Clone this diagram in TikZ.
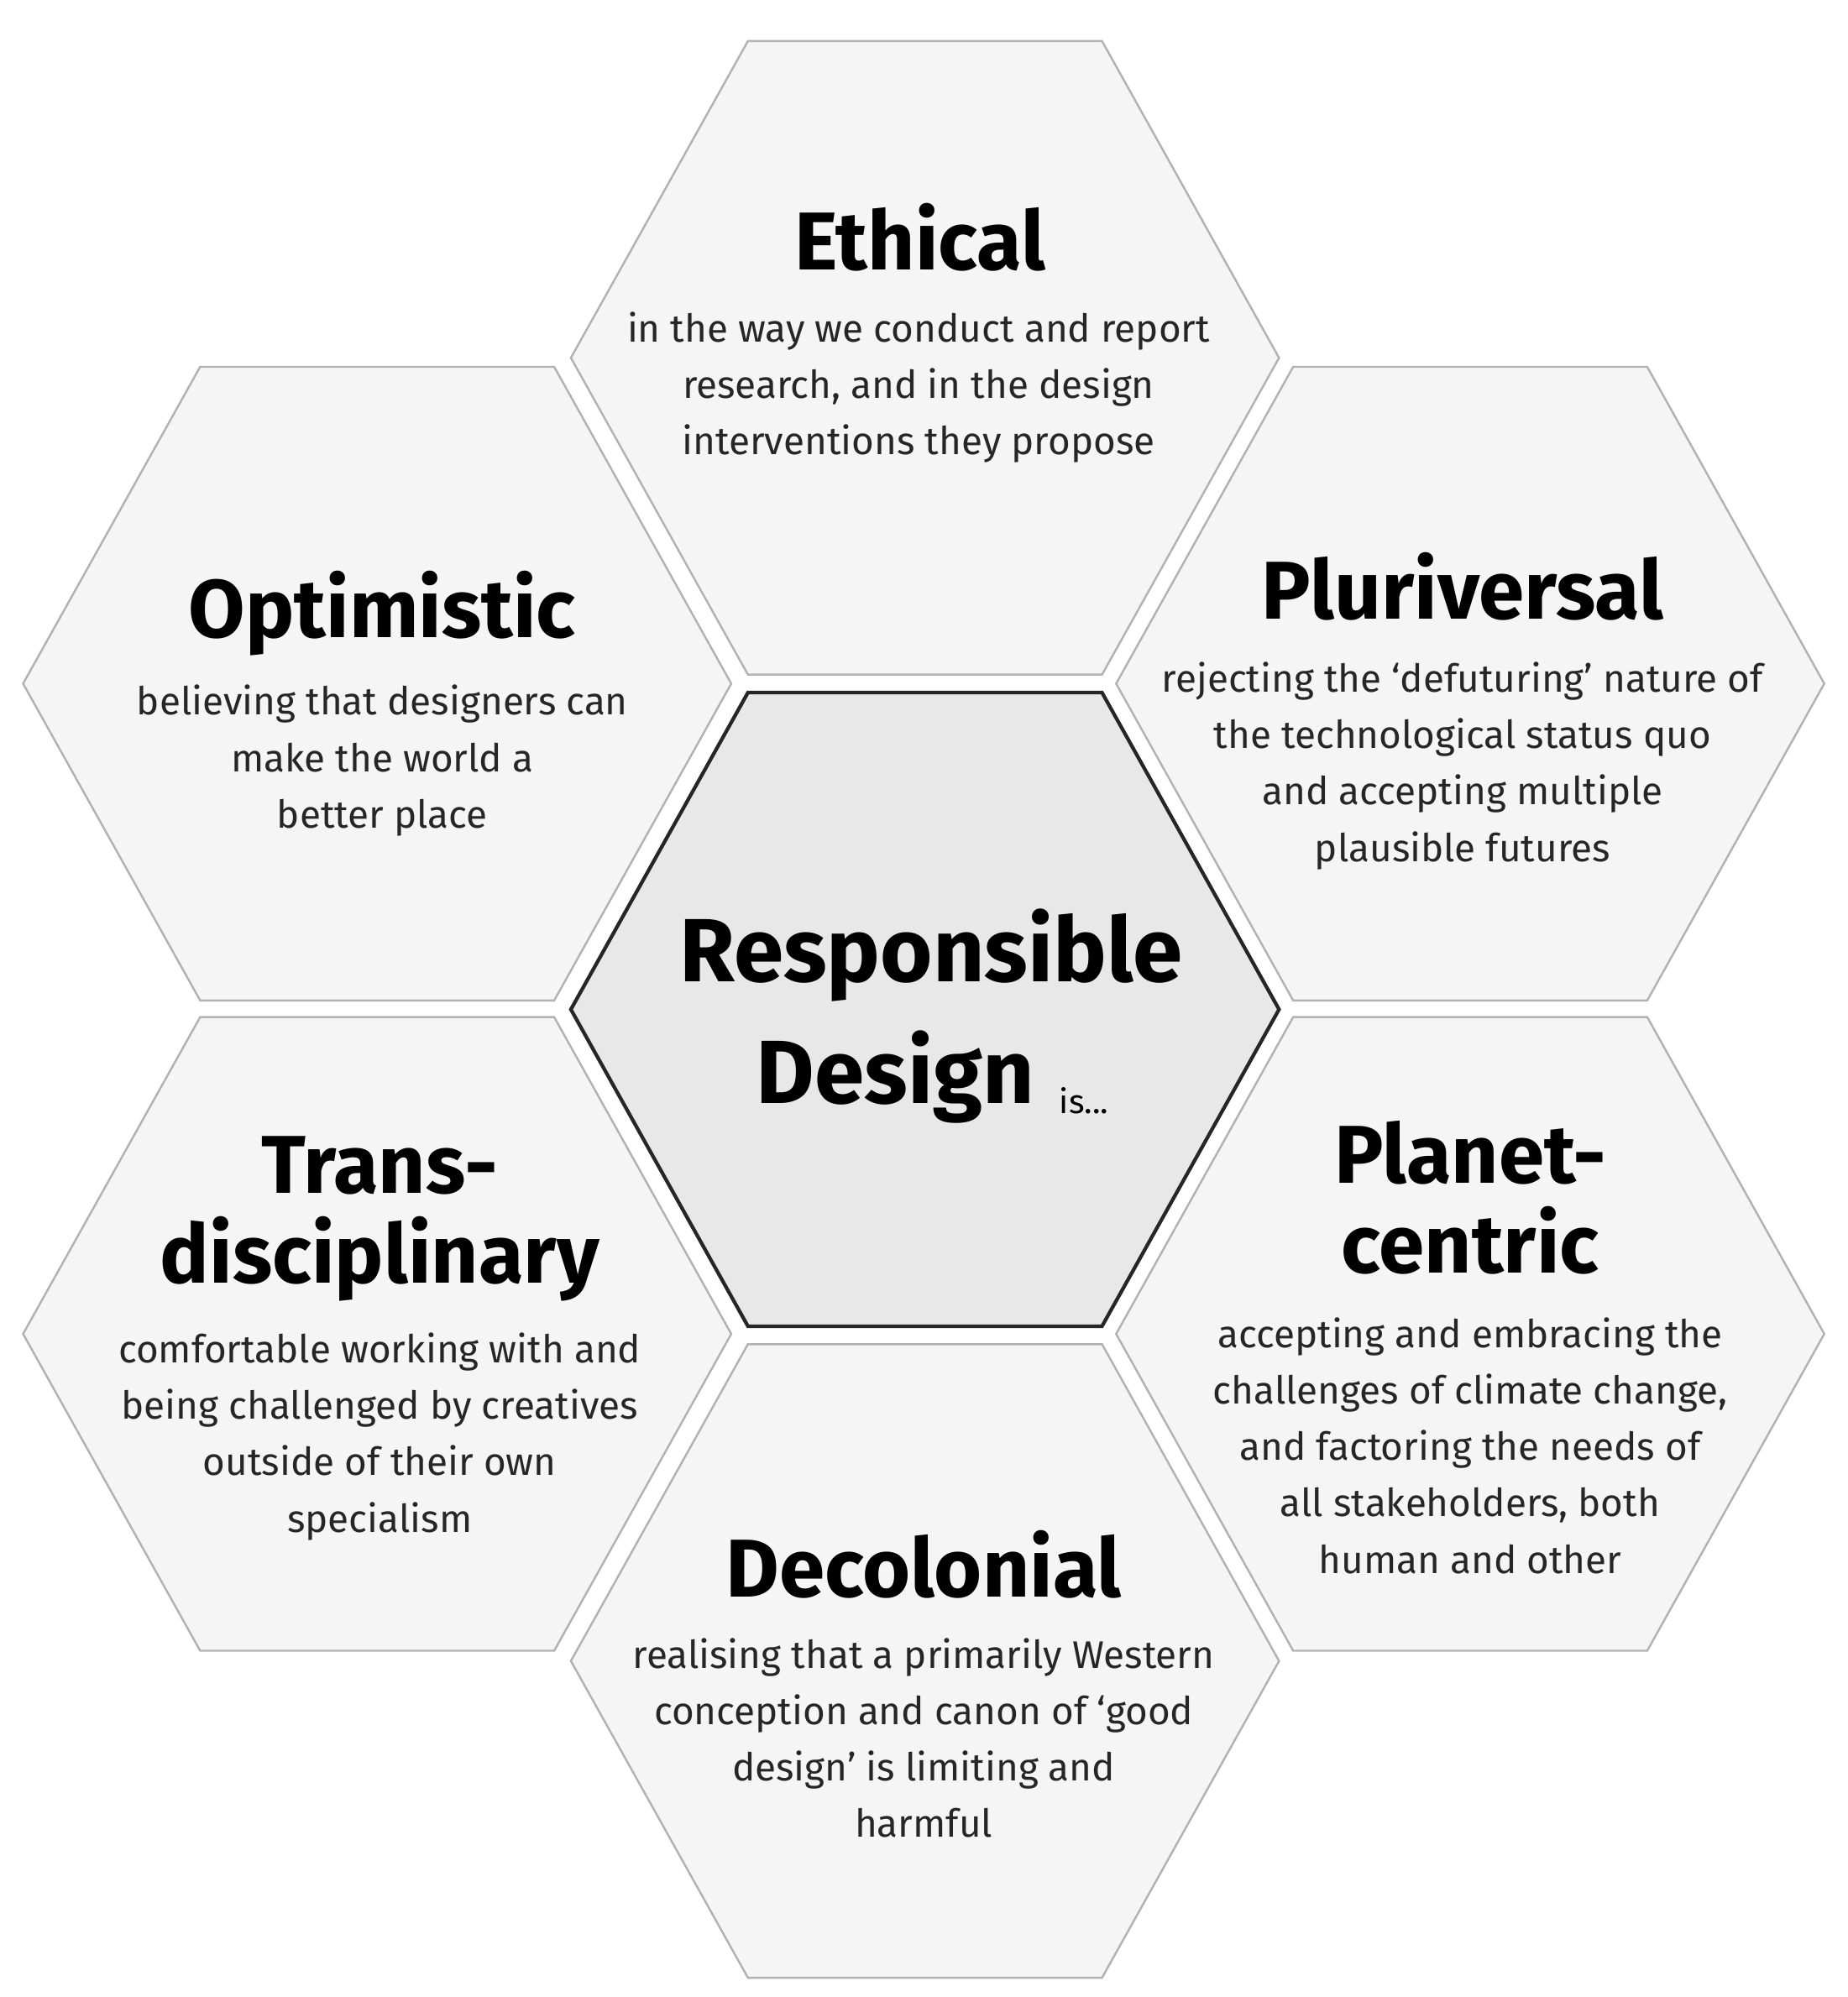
\documentclass[tikz,border=0pt]{standalone}
\usepackage{fontspec}
\setmainfont{Fira Sans}
\newfontfamily\ttlfont{Fira Sans}[UprightFont=* Bold]
\begin{document}
\begin{tikzpicture}[x=0.5pt,y=-0.5pt,
  hexcell/.style={draw=black!30,fill=black!4,line width=0.8pt},
  hexmid/.style={draw=black!85,fill=black!9,line width=1.4pt},
  ttl/.style={font=\ttlfont\fontsize{32}{35}\selectfont,align=center,inner sep=0},
  bigttl/.style={font=\ttlfont\fontsize{35}{47}\selectfont,align=center,inner sep=0},
  body/.style={font=\fontsize{15}{22}\selectfont,align=center,inner sep=0,text=black!85}]
\useasboundingbox (0,0) rectangle (1440,1557);
\newcommand\hexat[3]{\draw[#1] (#2-276,#3) -- (#2-138,#3-247) -- (#2+138,#3-247) -- (#2+276,#3) -- (#2+138,#3+247) -- (#2-138,#3+247) -- cycle;}
\hexat{hexcell}{721}{279}
\hexat{hexcell}{294}{533}
\hexat{hexcell}{1146}{533}
\hexat{hexcell}{294}{1040}
\hexat{hexcell}{1146}{1040}
\hexat{hexcell}{721}{1295}
\hexat{hexmid}{721}{787}

\node[ttl] (eth) at (717,185) {Ethical};
\node[body] (ethb) at (716,302) {in the way we conduct and report\\research, and in the design\\interventions they propose};
\node[ttl] (opt) at (298,478) {Optimistic};
\node[body] (optb) at (298,593) {believing that designers can\\make the world a\\better place};
\node[ttl] (plu) at (1140,457) {Pluriversal};
\node[body] (plub) at (1140,597) {rejecting the ‘defuturing’ nature of\\the technological status quo\\and accepting multiple\\plausible futures};
\node[bigttl] (rd1) at (726,745) {Responsible};
\node[bigttl] (rd2) at (698,840) {Design};
\node[font=\fontsize{13}{16}\selectfont,inner sep=0] (is) at (845,858) {is...};
\node[ttl] (tra) at (296,950) {Trans-\\disciplinary};
\node[body] (trab) at (296,1120) {comfortable working with and\\being challenged by creatives\\outside of their own\\specialism};
\node[ttl] (pla) at (1146,934) {Planet-\\centric};
\node[body] (plab) at (1146,1127) {accepting and embracing the\\challenges of climate change,\\and factoring the needs of\\all stakeholders, both\\human and other};
\node[ttl] (dec) at (720,1220) {Decolonial};
\node[body] (decb) at (720,1355) {realising that a primarily Western\\conception and canon of ‘good\\design’ is limiting and\\harmful};
\end{tikzpicture}
\end{document}
